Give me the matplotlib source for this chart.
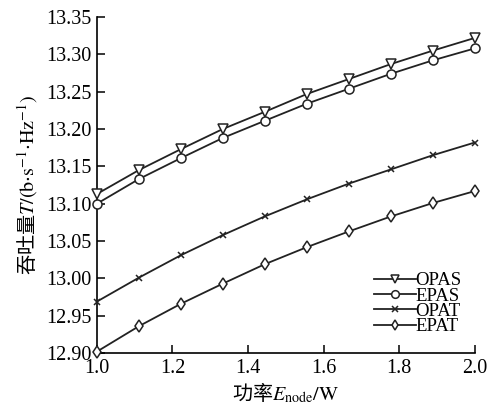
import numpy as np
import matplotlib
matplotlib.use("Agg")
from matplotlib import pyplot as plt

plt.rcParams['font.family'] = ['Liberation Serif', 'Noto Sans CJK SC']
plt.rcParams['mathtext.fontset'] = 'stix'

# power E_node (W)
power = [1.0, 1.111, 1.222, 1.333, 1.444, 1.556, 1.667, 1.778, 1.889, 2.0]

# throughput values
opas = [13.113, 13.145, 13.173, 13.200, 13.223, 13.247, 13.267, 13.287, 13.305, 13.322]
epas = [13.100, 13.133, 13.161, 13.188, 13.211, 13.234, 13.254, 13.274, 13.292, 13.308]
opat = [12.969, 13.001, 13.031, 13.058, 13.083, 13.106, 13.127, 13.146, 13.165, 13.182]
epat = [12.902, 12.936, 12.966, 12.993, 13.019, 13.042, 13.063, 13.083, 13.101, 13.117]

names = ["OPAS", "EPAS", "OPAT", "EPAT"]
markers = ["v", "o", "x", "d"]

xticks = [1.0, 1.2, 1.4, 1.6, 1.8, 2.0]
yticks = [12.90, 12.95, 13.00, 13.05, 13.10, 13.15, 13.20, 13.25, 13.30, 13.35]


def main():
    fig = plt.figure(figsize=(4.89, 4.05), dpi=100)
    ax = fig.add_axes([0.198, 0.128, 0.773, 0.830])

    for vals, name, mk in zip([opas, epas, opat, epat], names, markers):
        ax.plot(power, vals, color="#222222", lw=1.3, marker=mk, ms=6.5 if mk != "x" else 5,
                mfc="white", mec="#222222", mew=1.1, label=name, clip_on=False, zorder=3)

    ax.set_xlim(1.0, 2.0)
    ax.set_ylim(12.90, 13.35)
    ax.set_xticks(xticks)
    ax.set_xticklabels(["%.1f" % t for t in xticks])
    ax.set_yticks(yticks)
    ax.set_yticklabels(["%.2f" % t for t in yticks])
    ax.tick_params(direction="in", length=6, width=1.1, labelsize=14.5, pad=4)
    ax.spines["top"].set_visible(False)
    ax.spines["right"].set_visible(False)
    for s in ["left", "bottom"]:
        ax.spines[s].set_linewidth(1.2)

    ax.set_xlabel(r"功率$E_{\mathrm{node}}/\mathrm{W}$", fontsize=14.5,
                  family="Noto Sans CJK SC", labelpad=2)
    ax.set_ylabel(r"吞吐量$T/(\mathrm{b{\cdot}s^{-1}{\cdot}Hz^{-1}})$", fontsize=14.5,
                  family="Noto Sans CJK SC", labelpad=4)

    ax.legend(loc="lower right", bbox_to_anchor=(0.995, 0.02), frameon=False,
              fontsize=13.5, labelspacing=-0.1, handlelength=2.2, markerscale=0.85,
              handletextpad=0.0, borderaxespad=0.2)

    fig.savefig("out.png", dpi=100)
    print("Done.")


if __name__ == "__main__":
    main()
